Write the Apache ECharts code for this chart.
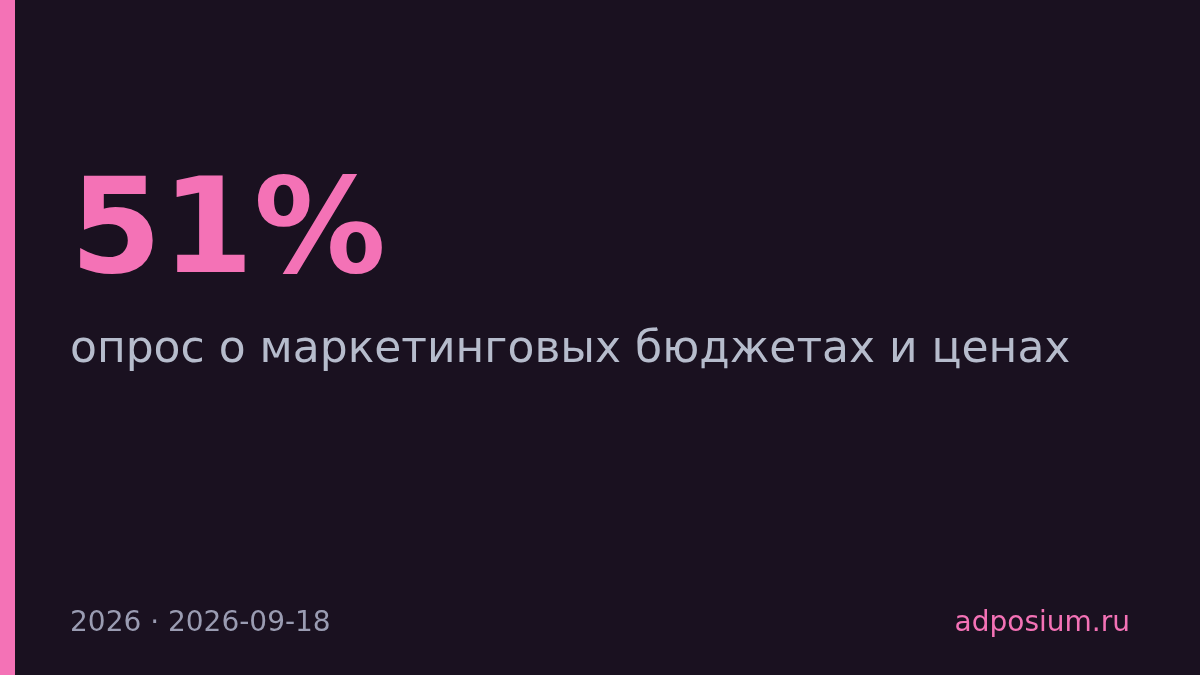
<!DOCTYPE html>
<html>
<head>
<meta charset="utf-8">
<script src="https://cdn.jsdelivr.net/npm/echarts@6/dist/echarts.min.js"></script>
<style>
	html, body { margin: 0; padding: 0; background: #1a1120; }
	#card { width: 1200px; height: 675px; }
</style>
</head>
<body>
<div id="card"></div>
<script>
// значения карточки
var statValue = [51];
var statUnit = ['%'];
var subtitle = ['опрос о маркетинговых бюджетах и ценах'];
var footerLeft = ['2026', '2026-09-18'];
var footerRight = ['adposium.ru'];

var card = echarts.init(document.getElementById('card'));
var font = 'DejaVu Sans';

var card_option = {
	backgroundColor : '#1a1120',
	graphic : [ {
		type : 'rect',
		left : 0,
		top : 0,
		shape : { width : 15, height : 675 },
		style : { fill : '#f472b6' }
	}, {
		type : 'text',
		x : 70,
		y : 238,
		style : {
			text : statValue[0] + statUnit[0],
			fill : '#f472b6',
			font : 'bold 132px "' + font + '"',
			verticalAlign : 'middle'
		}
	}, {
		type : 'text',
		x : 70,
		y : 351,
		style : {
			text : subtitle[0],
			fill : '#b6bccc',
			font : '44px "' + font + '"',
			verticalAlign : 'middle'
		}
	}, {
		type : 'text',
		x : 70,
		y : 624,
		style : {
			text : footerLeft.join(' · '),
			fill : '#9a9cb2',
			font : '28px "' + font + '"',
			verticalAlign : 'middle'
		}
	}, {
		type : 'text',
		x : 1130,
		y : 624,
		style : {
			text : footerRight[0],
			fill : '#f472b6',
			font : '28px "' + font + '"',
			align : 'right',
			verticalAlign : 'middle'
		}
	} ]
};

card.setOption(card_option, true);
</script>
</body>
</html>
